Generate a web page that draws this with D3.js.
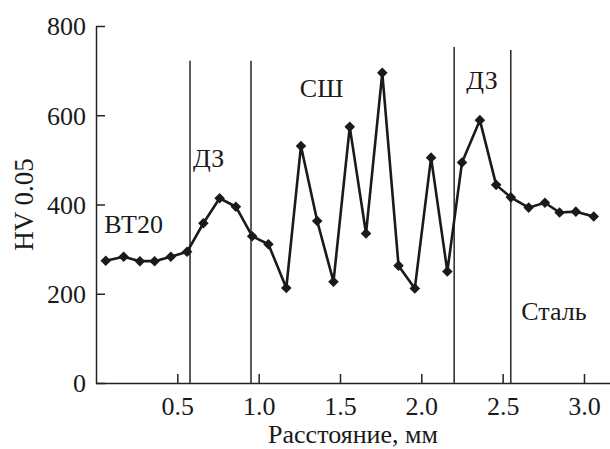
<!DOCTYPE html>
<html>
<head>
<meta charset="utf-8">
<script src="https://cdn.jsdelivr.net/npm/d3@7"></script>
<style>
  body { margin: 0; background: #fff; }
  svg text { font-family: "Liberation Serif", "Times New Roman", Tinos, "DejaVu Serif", serif !important; fill: #1a1a1a; }
</style>
</head>
<body>
<svg id="chart" width="610" height="449"></svg>
<script>
// distance, mm
const distance = [0.06, 0.17, 0.27, 0.36, 0.46, 0.56, 0.66, 0.76, 0.86, 0.96,
  1.06, 1.17, 1.26, 1.36, 1.46, 1.56, 1.66, 1.76, 1.86, 1.96,
  2.06, 2.16, 2.25, 2.36, 2.46, 2.55, 2.66, 2.76, 2.85, 2.95, 3.06];
// microhardness HV 0.05
const hardness = [274, 283, 273, 273, 283, 294, 358, 414, 395, 329,
  311, 213, 531, 363, 227, 574, 335, 695, 263, 212,
  505, 250, 494, 589, 444, 416, 393, 404, 382, 384, 373];

// zone borders
const borderX = [0.578, 0.953, 2.202, 2.55];
const borderTop = [722, 722, 753, 746];

const zoneNames = ['ВТ20', 'ДЗ', 'СШ', 'ДЗ', 'Сталь'];
const zoneX = [0.05, 0.596, 1.253, 2.277, 2.615];
const zoneY = [336, 485, 641, 658, 141];

const xTicks = [0.5, 1.0, 1.5, 2.0, 2.5, 3.0];
const yTicks = [0, 200, 400, 600, 800];

const svg = d3.select('#chart');

const x = d3.scaleLinear().domain([0, 3.16]).range([96, 610]);
const y = d3.scaleLinear().domain([0, 800]).range([383, 26]);

// axes
const xAxis = svg.append('g')
  .attr('transform', `translate(0,${y(0)})`)
  .call(d3.axisBottom(x).tickValues(xTicks).tickFormat(d3.format('.1f'))
    .tickSizeInner(-9).tickSizeOuter(0).tickPadding(14));

const yAxis = svg.append('g')
  .attr('transform', `translate(${x(0)},0)`)
  .call(d3.axisLeft(y).tickValues(yTicks).tickSizeInner(-9).tickSizeOuter(0).tickPadding(10));

[xAxis, yAxis].forEach(a => {
  a.attr('font-family', null);
  a.selectAll('path, line').attr('stroke', '#222').attr('stroke-width', 1.5);
  a.selectAll('text').attr('font-size', 26).attr('fill', '#1a1a1a');
});
xAxis.selectAll('text').attr('dy', '0.71em');
yAxis.selectAll('text').attr('dy', '0.34em');

// zone borders
svg.append('g')
  .selectAll('line')
  .data(borderX)
  .join('line')
  .attr('x1', d => x(d))
  .attr('x2', d => x(d))
  .attr('y1', y(0))
  .attr('y2', (d, i) => y(borderTop[i]))
  .attr('stroke', '#333')
  .attr('stroke-width', 1.6);

// hardness profile
const points = distance.map((d, i) => [d, hardness[i]]);

svg.append('path')
  .datum(points)
  .attr('fill', 'none')
  .attr('stroke', '#1a1a1a')
  .attr('stroke-width', 2.6)
  .attr('stroke-linejoin', 'round')
  .attr('d', d3.line().x(d => x(d[0])).y(d => y(d[1])));

const diamond = d3.symbol().type(d3.symbolSquare).size(56);

svg.append('g')
  .selectAll('path')
  .data(points)
  .join('path')
  .attr('d', diamond)
  .attr('transform', d => `translate(${x(d[0])},${y(d[1])}) rotate(45)`)
  .attr('fill', '#1a1a1a');

// zone labels
svg.append('g')
  .selectAll('text')
  .data(zoneNames)
  .join('text')
  .attr('x', (d, i) => x(zoneX[i]))
  .attr('y', (d, i) => y(zoneY[i]))
  .attr('font-size', 26)
  .text(d => d);

// axis titles
svg.append('text')
  .attr('x', (x(0) + 610) / 2)
  .attr('y', 443)
  .attr('text-anchor', 'middle')
  .attr('font-size', 26)
  .text('Расстояние, мм');

svg.append('text')
  .attr('transform', `translate(33,${(y(0) + y(800)) / 2}) rotate(-90)`)
  .attr('text-anchor', 'middle')
  .attr('font-size', 27)
  .text('HV 0.05');
</script>
</body>
</html>
